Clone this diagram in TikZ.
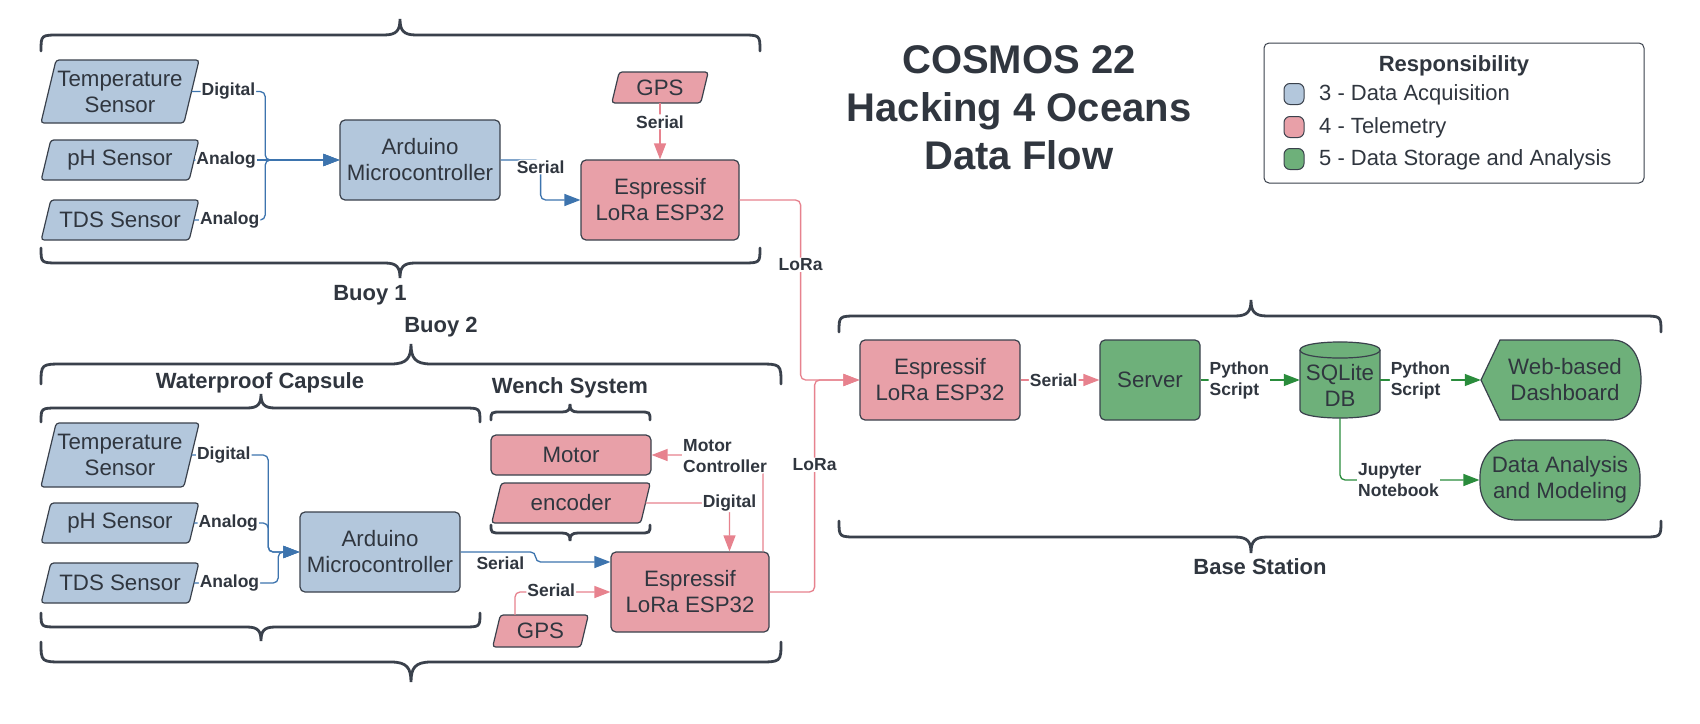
\documentclass[tikz,border=0pt]{standalone}
\usepackage{fontspec}
\setmainfont{Liberation Sans}
\usetikzlibrary{arrows.meta}
\definecolor{txt}{HTML}{30363F}
\definecolor{edge}{HTML}{3A414C}
\definecolor{bfill}{HTML}{B3C7DC}
\definecolor{pfill}{HTML}{E8A0A8}
\definecolor{gfill}{HTML}{6EB07A}
\definecolor{bline}{HTML}{3D74AE}
\definecolor{pline}{HTML}{E7828E}
\definecolor{gline}{HTML}{2A8C3C}
\tikzset{
  box/.style={draw=edge, line width=1.2pt, rounded corners=5pt, text=txt,
    font=\fontsize{22.3}{26}\selectfont, align=center, inner sep=0pt},
  bbox/.style={box, fill=bfill},
  pbox/.style={box, fill=pfill},
  gbox/.style={box, fill=gfill},
  ptext/.style={text=txt, font=\fontsize{22.3}{26}\selectfont, align=center, inner sep=0pt},
  shp/.style={draw=edge, line width=1.2pt, rounded corners=3pt},
  lbl/.style={fill=white, text=txt, font=\bfseries\fontsize{17.5}{21}\selectfont, inner sep=1pt, align=left},
  conn/.style={line width=1.3pt, rounded corners=5pt},
  arr/.style={-{Triangle[length=16pt,width=12pt]}},
  bl/.style={conn, draw=bline},
  pl/.style={conn, draw=pline},
  gl/.style={conn, draw=gline},
  brc/.style={draw=edge, line width=2.8pt, line cap=round},
  grouplbl/.style={text=txt, font=\bfseries\fontsize{22}{26}\selectfont, inner sep=0pt},
}
% parallelogram: fill, name, cx, cy, mid width, height, text
\newcommand\paral[7]{%
  \path[shp, fill=#1] ({#3-#5/2-0.12*#6},{#4+#6/2}) -- ({#3+#5/2-0.12*#6},{#4+#6/2})
     -- ({#3+#5/2+0.12*#6},{#4-#6/2}) -- ({#3-#5/2+0.12*#6},{#4-#6/2}) -- cycle;
  \node[ptext, minimum width=#5pt, minimum height=#6pt] (#2) at (#3,#4) {#7};}
% curly brace: left, right, line y, tip x, signed size (negative = tip up)
\newcommand\cbrace[5]{%
  \draw[brc] (#1,{#3-(#5)}) .. controls (#1,#3) .. ({#1+abs(#5)+3},#3)
    -- ({#4-abs(#5)},#3) .. controls ({#4-0.2*abs(#5)},#3) and (#4,{#3+0.3*(#5)}) .. (#4,{#3+(#5)})
    .. controls (#4,{#3+0.3*(#5)}) and ({#4+0.2*abs(#5)},#3) .. ({#4+abs(#5)},#3)
    -- ({#2-abs(#5)-3},#3) .. controls (#2,#3) .. (#2,{#3-(#5)});}
\begin{document}
\begin{tikzpicture}[x=1pt,y=-1pt]
\fill[white] (0,0) rectangle (1700,723);
\useasboundingbox (0,0) rectangle (1700,723);

% ---------- braces ----------
\cbrace{41}{760}{35}{400}{-16}
\cbrace{41}{760}{263}{400}{15}
\cbrace{41}{781}{364}{411}{-20}
\cbrace{41}{781}{662}{411}{20}
\cbrace{41}{480}{408}{261}{-14}
\cbrace{41}{480}{627}{261}{14}
\cbrace{491}{650}{412}{570}{-8}
\cbrace{491}{650}{533}{570}{8}
\cbrace{839}{1661}{316}{1251}{-16}
\cbrace{839}{1661}{537}{1251}{16}

% ---------- group labels ----------
\node[grouplbl] (buoy1) at (370,295) {Buoy 1};
\node[grouplbl] (buoy2) at (441,327) {Buoy 2};
\node[grouplbl] (cap) at (260,383) {Waterproof Capsule};
\node[grouplbl] (wench) at (570,388) {Wench System};
\node[grouplbl] (base) at (1260,567) {Base Station};

% ---------- title ----------
\node[text=txt, font=\bfseries\fontsize{40}{48}\selectfont, align=center] (title) at (1019,108)
  {COSMOS 22\\Hacking 4 Oceans\\Data Flow};

% ---------- legend ----------
\node[draw=edge, line width=1pt, rounded corners=5pt, fill=white,
      minimum width=380pt, minimum height=140pt] (leg) at (1454,113) {};
\node[grouplbl] (legt) at (1454,66) {Responsibility};
\node[bbox, line width=1pt, rounded corners=6pt, minimum width=20pt, minimum height=21pt] (s1) at (1294,94) {};
\node[pbox, line width=1pt, rounded corners=6pt, minimum width=20pt, minimum height=21pt] (s2) at (1294,127) {};
\node[gbox, line width=1pt, rounded corners=6pt, minimum width=20pt, minimum height=21pt] (s3) at (1294,159) {};
\node[ptext, anchor=west, font=\fontsize{22}{26}\selectfont] (l1) at (1319,95) {3 - Data Acquisition};
\node[ptext, anchor=west, font=\fontsize{22}{26}\selectfont] (l2) at (1319,128) {4 - Telemetry};
\node[ptext, anchor=west, font=\fontsize{22}{26}\selectfont] (l3) at (1319,160) {5 - Data Storage and Analysis};

% ---------- Buoy 1 ----------
\paral{bfill}{t1}{120}{91.5}{143}{63}{Temperature\\Sensor}
\paral{bfill}{p1}{120}{160}{148}{40}{pH Sensor}
\paral{bfill}{d1}{120}{220}{148}{40}{TDS Sensor}
\node[bbox, minimum width=160pt, minimum height=80pt] (a1) at (420,160) {Arduino\\Microcontroller};
\paral{pfill}{g1}{660}{87.5}{89}{31}{GPS}
\node[pbox, minimum width=158pt, minimum height=80pt] (e1) at (660,200) {Espressif\\LoRa ESP32};

% ---------- Buoy 2 ----------
\paral{bfill}{t2}{120}{455}{143}{64}{Temperature\\Sensor}
\paral{bfill}{p2}{120}{523}{148}{40}{pH Sensor}
\paral{bfill}{d2}{120}{583}{148}{40}{TDS Sensor}
\node[bbox, minimum width=160pt, minimum height=80pt] (a2) at (380,552) {Arduino\\Microcontroller};
\node[pbox, minimum width=160pt, minimum height=40pt] (mot) at (571,455) {Motor};
\paral{pfill}{enc}{571}{503}{149}{40}{encoder}
\node[pbox, minimum width=158pt, minimum height=80pt] (e2) at (690,592) {Espressif\\LoRa ESP32};
\paral{pfill}{g2}{540.5}{631}{88}{32}{GPS}

% ---------- Base station ----------
\node[pbox, minimum width=160pt, minimum height=80pt] (be) at (940,380) {Espressif\\LoRa ESP32};
\node[gbox, minimum width=100pt, minimum height=80pt] (srv) at (1150,380) {Server};
\path[shp, fill=gfill, sharp corners] (1300,350) -- (1300,410)
  .. controls (1300,420.7) and (1380,420.7) .. (1380,410) -- (1380,350)
  .. controls (1380,339.3) and (1300,339.3) .. (1300,350) -- cycle;
\draw[shp, sharp corners] (1300,350) .. controls (1300,360.7) and (1380,360.7) .. (1380,350);
\node[inner sep=0pt, minimum width=80pt, minimum height=76pt,
      label={[ptext, yshift=-5pt]center:SQLite\\DB}] (db) at (1340,380) {};
\path[shp, fill=gfill, sharp corners] (1481,380) -- (1500,340) -- (1612,340)
  .. controls (1632,340) and (1641,358) .. (1641,380)
  .. controls (1641,402) and (1632,420) .. (1612,420) -- (1500,420) -- cycle;
\node[ptext, minimum width=168pt, minimum height=80pt] (dash) at (1565,380) {Web-based\\Dashboard};
\node[gbox, rounded corners=36pt, minimum width=160pt, minimum height=80pt] (ana) at (1560,480) {Data Analysis\\and Modeling};

% ---------- connectors Buoy 1 ----------
\draw[bl, arr] (t1.east) -- node[lbl]{Digital} ++(73.5,0) |- (a1.west);
\draw[bl, arr] (p1.east) -- node[lbl, pos=0.22]{Analog} (a1.west);
\draw[bl, arr] (d1.east) -- node[lbl]{Analog} ++(71,0) |- (a1.west);
\draw[bl, arr] (a1.east) -- ++(40,0) node[lbl, yshift=-7pt]{Serial} |- (e1.west);
\draw[pl, arr] (g1.south) -- node[lbl, pos=0.33]{Serial} (e1.north);
\draw[pl, arr] (e1.east) -- ++(61,0) coordinate (c1) -- node[lbl, pos=0.36]{LoRa} (c1 |- be.west) -- (be.west);

% ---------- connectors Buoy 2 ----------
\draw[bl, arr] (t2.east) -- node[lbl, pos=0.42]{Digital} ++(76.5,0) |- (a2.west);
\draw[bl, arr] (p2.east) -- node[lbl, pos=0.46]{Analog} ++(74,0) |- (a2.west);
\draw[bl, arr] (d2.east) -- node[lbl, pos=0.42]{Analog} ++(84,0) |- (a2.west);
\draw[bl, arr] (a2.east) -- node[lbl, fill=none, pos=0.53, yshift=-11pt]{Serial} ++(75,0) |- ([yshift=30pt]e2.west);
\draw[pl, arr] ([xshift=-25.5pt]g2.north) |- node[lbl, pos=0.69, yshift=2pt]{Serial} (e2.west);
\draw[pl, arr] (enc.east) -| node[lbl, pos=0.5]{Digital} ([xshift=39.5pt]e2.north);
\draw[pl, arr] ([xshift=73pt]e2.north) |- node[lbl, pos=0.5, xshift=-38pt, yshift=-1pt]{Motor\\Controller} (mot.east);
\draw[pl, arr] (e2.east) -- ++(45,0) coordinate (c2) -- node[lbl, pos=0.6]{LoRa} (c2 |- be.west) -- (be.west);

% ---------- connectors Base ----------
\draw[pl, arr] (be.east) -- node[lbl, pos=0.42]{Serial} (srv.west);
\draw[gl, arr] (srv.east) -- node[lbl, pos=0.39]{Python\\Script} (db.west);
\draw[gl, arr] (db.east) -- node[lbl, pos=0.4]{Python\\Script} (dash.west);
\draw[gl, arr] (db.south) |- node[lbl, pos=0.71]{Jupyter\\Notebook} (ana.west);
\end{tikzpicture}
\end{document}
